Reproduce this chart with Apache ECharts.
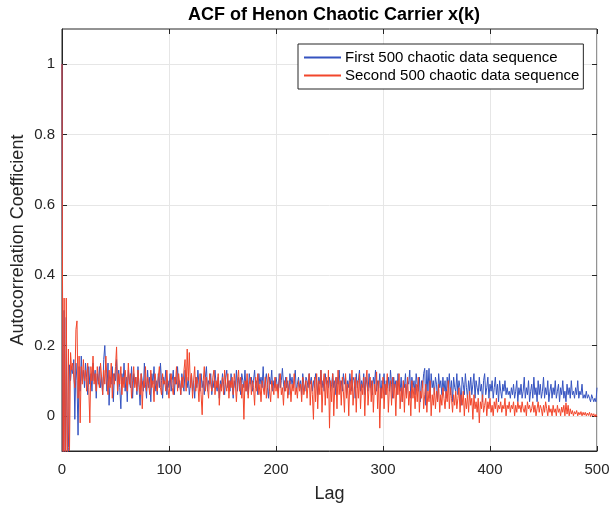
<!DOCTYPE html>
<html>
<head>
<meta charset="utf-8">
<script src="https://cdn.jsdelivr.net/npm/echarts@6/dist/echarts.min.js"></script>
<style>
  html, body { margin: 0; padding: 0; background: #fff; }
  #chart { width: 611px; height: 511px; }
</style>
</head>
<body>
<div id="chart"></div>
<script>
// ACF values, one value per lag (0..500)
var firstSeq = [
  1, -0.32, 0.3, -0.22, 0.28, -0.14, -0.09, 0.145, 0.1, 0.14,
  0.12, 0.16, -0.01, 0.15, 0.1, -0.055, 0.14, 0.07, 0.17, 0.1,
  0.13, 0.08, 0.15, 0.11, 0.06, 0.14, 0.09, 0.12, 0.07, 0.15,
  0.1, 0.13, 0.05, 0.12, 0.09, 0.14, 0.08, 0.11, 0.06, 0.16,
  0.2, 0.12, 0.07, 0.15, 0.03, 0.11, 0.09, 0.14, 0.04, 0.12,
  0.1, 0.16, 0.06, 0.13, 0.08, 0.02, 0.12, 0.09, 0.15, 0.07,
  0.11, 0.04, 0.13, 0.1, 0.08, 0.14, 0.05, 0.12, 0.09, 0.11,
  0.06, 0.14, 0.08, 0.03, 0.12, 0.1, 0.07, 0.15, 0.09, 0.05,
  0.13, 0.08, 0.11, 0.04, 0.12, 0.09, 0.14, 0.07, 0.1, 0.06,
  0.12, 0.08, 0.15, 0.1, 0.05, 0.11, 0.09, 0.13, 0.06, 0.1,
  0.08, 0.12, 0.07, 0.1, 0.13, 0.06, 0.11, 0.09, 0.14, 0.08,
  0.1, 0.06, 0.12, 0.09, 0.07, 0.13, 0.1, 0.08, 0.11, 0.06,
  0.09, 0.12, 0.07, 0.1, 0.05, 0.11, 0.08, 0.13, 0.09, 0.07,
  0.12, 0.08, 0.1, 0.06, 0.11, 0.14, 0.07, 0.1, 0.09, 0.12,
  0.06, 0.1, 0.08, 0.13, 0.09, 0.07, 0.11, 0.05, 0.1, 0.08,
  0.12, 0.09, 0.06, 0.11, 0.13, 0.08, 0.1, 0.07, 0.12, 0.09,
  0.05, 0.1, 0.08, 0.13, 0.07, 0.11, 0.09, 0.06, 0.12, 0.1,
  0.08, 0.13, 0.07, 0.1, 0.06, 0.12, 0.09, 0.11, 0.07, 0.1,
  0.13, 0.08, 0.1, 0.06, 0.12, 0.09, 0.11, 0.08, 0.14, 0.07,
  0.1, 0.12, 0.08, 0.05, 0.11, 0.09, 0.13, 0.07, 0.1, 0.08,
  0.11, 0.09, 0.07, 0.12, 0.08, 0.1, 0.135, 0.09, 0.07, 0.11,
  0.08, 0.1, 0.06, 0.12, 0.09, 0.11, 0.08, 0.1, 0.13, 0.07,
  0.09, 0.11, 0.08, 0.1, 0.06, 0.12, 0.09, 0.07, 0.11, 0.1,
  0.08, 0.12, 0.09, 0.11, 0.07, 0.1, 0.08, 0.12, 0.1, 0.06,
  0.11, 0.09, 0.13, 0.08, 0.1, 0.07, 0.12, 0.09, 0.1, 0.08,
  0.11, 0.07, 0.09, 0.12, 0.08, 0.1, 0.06, 0.11, 0.09, 0.13,
  0.08, 0.1, 0.07, 0.12, 0.09, 0.11, 0.06, 0.1, 0.08, 0.12,
  0.09, 0.07, 0.11, 0.1, 0.05, 0.12, 0.08, 0.1, 0.13, 0.07,
  0.1, 0.08, 0.12, 0.06, 0.11, 0.09, 0.07, 0.12, 0.08, 0.1,
  0.06, 0.11, 0.09, 0.13, 0.07, 0.1, 0.08, 0.12, 0.05, 0.1,
  0.09, 0.12, 0.06, 0.1, 0.08, 0.11, 0.07, 0.13, 0.09, 0.05,
  0.11, 0.08, 0.1, 0.06, 0.12, 0.09, 0.07, 0.11, 0.04, 0.1,
  0.08, 0.12, 0.06, 0.1, 0.09, 0.13, 0.05, 0.11, 0.08, 0.1,
  0.06, 0.12, 0.09, 0.07, 0.11, 0.04, 0.1, 0.08, 0.12, 0.135,
  0.03, 0.13, 0.07, 0.135, 0.05, 0.12, 0.08, 0.1, 0.06, 0.11,
  0.09, 0.04, 0.12, 0.08, 0.1, 0.06, 0.11, 0.07, 0.1, 0.05,
  0.11, 0.08, 0.12, 0.06, 0.1, 0.04, 0.11, 0.08, 0.07, 0.12,
  0.06, 0.1, 0.08, 0.03, 0.11, 0.09, 0.06, 0.12, 0.08, 0.05,
  0.1, 0.07, 0.11, 0.06, 0.09, 0.12, 0.05, 0.1, 0.08, 0.06,
  0.11, 0.07, 0.09, 0.04, 0.1, 0.12, 0.06, 0.08, 0.11, 0.05,
  0.09, 0.07, 0.1, 0.05, 0.08, 0.11, 0.06, 0.09, 0.04, 0.1,
  0.07, 0.05, 0.09, 0.07, 0.1, 0.06, 0.08, 0.06, 0.07, 0.05,
  0.08, 0.06, 0.09, 0.05, 0.07, 0.1, 0.04, 0.08, 0.06, 0.09,
  0.05, 0.07, 0.11, 0.05, 0.08, 0.06, 0.1, 0.04, 0.07, 0.09,
  0.05, 0.11, 0.06, 0.08, 0.04, 0.1, 0.06, 0.09, 0.05, 0.07,
  0.11, 0.05, 0.08, 0.06, 0.1, 0.04, 0.07, 0.09, 0.05, 0.08,
  0.06, 0.1, 0.05, 0.07, 0.09, 0.04, 0.08, 0.06, 0.1, 0.05,
  0.07, 0.04, 0.09, 0.06, 0.08, 0.05, 0.1, 0.06, 0.07, 0.05,
  0.08, 0.06, 0.1, 0.05, 0.07, 0.06, 0.09, 0.05, 0.06, 0.05,
  0.07, 0.05, 0.06, 0.05, 0.04, 0.06, 0.05, 0.04, 0.05, 0.04,
  0.08
];

var secondSeq = [
  1, -0.3, 0.335, -0.25, 0.335, -0.2, 0.19, -0.1, 0.18, 0.13,
  0.15, 0.11, 0.08, 0.245, 0.27, 0.05, 0.17, -0.02, 0.14, 0.09,
  0.16, 0.1, 0.13, 0.07, 0.15, 0.08, -0.02, 0.14, 0.1, 0.17,
  0.09, 0.12, 0.07, 0.14, 0.1, 0.08, 0.15, 0.11, 0.06, 0.13,
  0.09, 0.17, 0.1, 0.06, 0.13, 0.08, 0.15, 0.05, 0.12, 0.09,
  0.14, 0.196, 0.07, 0.12, 0.09, 0.14, 0.06, 0.11, 0.08, 0.13,
  0.1, 0.07, 0.15, 0.09, 0.12, 0.05, 0.1, 0.14, 0.08, 0.11,
  0.07, 0.13, 0.09, 0.06, 0.12, 0.02, 0.1, 0.08, 0.14, 0.07,
  0.11, 0.09, 0.06, 0.13, 0.08, 0.1, 0.04, 0.12, 0.09, 0.07,
  0.11, 0.14, 0.08, 0.06, 0.12, 0.09, 0.1, 0.07, 0.13, 0.08,
  0.05, 0.1, 0.12, 0.08, 0.06, 0.11, 0.09, 0.14, 0.07, 0.12,
  0.09, 0.06, 0.11, 0.08, 0.13, 0.16, 0.07, 0.19, 0.1, 0.18,
  0.08, 0.12, 0.05, 0.1, 0.14, 0.07, 0.11, 0.09, 0.04, 0.12,
  0.06, 0.003, 0.1, 0.14, 0.07, 0.11, 0.08, 0.05, 0.12, 0.09,
  0.07, 0.11, 0.13, 0.06, 0.1, 0.08, 0.12, 0.03, 0.09, 0.07,
  0.11, 0.06, 0.13, 0.09, 0.07, 0.12, 0.05, 0.1, 0.08, 0.11,
  0.06, 0.12, 0.09, 0.04, 0.1, 0.13, 0.07, 0.11, 0.05, 0.09,
  -0.01, 0.1, 0.07, 0.12, 0.05, 0.09, 0.11, 0.06, 0.1, 0.08,
  0.03, 0.11, 0.07, 0.12, 0.06, 0.09, 0.04, 0.1, 0.08, 0.06,
  0.11, 0.05, 0.09, 0.12, 0.07, 0.04, 0.1, 0.08, 0.06, 0.11,
  0.07, 0.09, 0.05, 0.1, 0.12, 0.06, 0.08, 0.03, 0.1, 0.07,
  0.11, 0.05, 0.08, 0.1, 0.04, 0.09, 0.07, 0.12, 0.06, 0.08,
  0.05, 0.1, 0.07, 0.09, 0.04, 0.11, 0.06, 0.08, 0.1, 0.05,
  0.09, 0.12, 0.03, 0.1, 0.06, -0.01, 0.11, 0.04, 0.12, 0.02,
  0.1, 0.06, 0.13, 0.01, 0.09, 0.12, 0.03, 0.11, 0.05, 0.13,
  -0.035, 0.1, 0.04, 0.12, 0.0, 0.09, 0.11, 0.02, 0.13, 0.06,
  0.1, 0.03, 0.11, 0.07, 0.01, 0.12, 0.05, 0.09, 0.0, 0.1,
  0.06, 0.13, 0.03, 0.08, 0.11, 0.01, 0.1, 0.05, 0.12, 0.02,
  0.09, 0.06, 0.11, 0.0, 0.1, 0.13, 0.03, 0.08, 0.11, 0.04,
  0.1, 0.01, 0.09, 0.06, 0.125, 0.02, 0.1, -0.035, 0.08, 0.05,
  0.11, 0.02, 0.09, 0.06, 0.12, 0.01, 0.08, 0.1, 0.03, 0.11,
  0.05, 0.09, 0.0, 0.1, 0.06, 0.12, 0.02, 0.08, 0.04, 0.1,
  0.01, 0.09, 0.05, 0.11, 0.03, 0.07, 0.0, 0.1, 0.05, 0.08,
  0.02, 0.09, 0.04, 0.11, 0.01, 0.07, 0.05, 0.1, 0.02, 0.06,
  0.09, 0.01, 0.07, 0.04, 0.1, 0.0, 0.06, 0.03, 0.08, 0.02,
  0.07, 0.04, 0.09, 0.01, 0.06, 0.03, 0.08, 0.05, 0.02, 0.07,
  0.04, 0.1, 0.02, 0.08, 0.05, 0.01, 0.06, 0.03, 0.07, 0.02,
  0.05, 0.08, 0.01, 0.06, 0.03, 0.07, 0.0, 0.05, 0.02, 0.06,
  0.01, 0.07, 0.03, 0.05, -0.01, 0.06, 0.02, 0.04, 0.01, 0.05,
  -0.02, 0.04, 0.02, 0.06, 0.01, 0.03, 0.05, 0.0, 0.04, 0.02,
  0.05, 0.01, 0.03, 0.0, 0.04, 0.02, 0.05, 0.01, 0.03, 0.02,
  0.04, 0.01, 0.03, 0.02, 0.05, 0.0, 0.03, 0.02, 0.04, 0.01,
  0.03, 0.02, 0.04, 0.0, 0.03, 0.01, 0.04, 0.02, 0.03, 0.01,
  0.04, 0.02, 0.01, 0.03, 0.0, 0.04, 0.02, 0.03, 0.01, 0.02,
  0.04, 0.01, 0.03, 0.0, 0.02, 0.04, 0.01, 0.03, 0.02, 0.0,
  0.03, 0.01, 0.04, 0.02, 0.0, 0.03, 0.01, 0.02, 0.0, 0.03,
  0.01, 0.02, 0.0, 0.03, 0.01, 0.02, 0.0, 0.025, 0.01, 0.03,
  0.0, 0.037, 0.005, 0.03, 0.0, 0.02, 0.005, 0.015, 0.0, 0.012,
  0.005, 0.015, 0.0, 0.01, 0.003, 0.012, 0.0, 0.01, 0.002, 0.01,
  0.0, 0.008, 0.001, 0.01, -0.002, 0.007, 0.0, 0.006, -0.003, 0.004,
  -0.002
];

var seriesNames = ["First 500 chaotic data sequence", "Second 500 chaotic data sequence"];
var xTicks = [0, 100, 200, 300, 400, 500];
var yTicks = [0, 0.2, 0.4, 0.6, 0.8, 1];

function pairs(values) {
  var out = [];
  for (var i = 0; i < values.length; i++) out.push([i, values[i]]);
  return out;
}

var font = "Liberation Sans, Arial, Helvetica, sans-serif";
var axisColor = "#262626";
var gridColor = "#e6e6e6";
var xMin = xTicks[0], xMax = xTicks[xTicks.length - 1];

var chart = echarts.init(document.getElementById("chart"), null, { renderer: "canvas" });
chart.setOption({
  animation: false,
  backgroundColor: "#fff",
  textStyle: { fontFamily: font },
  title: {
    text: "ACF of Henon Chaotic Carrier x(k)",
    left: 329,
    textAlign: "center",
    top: 1,
    textStyle: { fontSize: 18, fontWeight: "bold", color: "#000", fontFamily: font }
  },
  grid: {
    left: 62, right: 14, top: 29, bottom: 60,
    outerBoundsMode: "none",
    containLabel: false,
    show: true, borderColor: axisColor, borderWidth: 1
  },
  legend: {
    orient: "vertical",
    left: 298,
    top: 44,
    padding: [6, 4, 6, 5],
    itemGap: 3,
    itemWidth: 37,
    itemHeight: 15,
    borderColor: axisColor,
    borderWidth: 1,
    backgroundColor: "#fff",
    itemStyle: { color: "transparent", borderColor: "transparent", borderWidth: 0 },
    textStyle: { fontSize: 15, color: "#000", fontFamily: font, padding: [0, 0, 0, -1] },
    data: seriesNames
  },
  xAxis: [
    {
      type: "value",
      min: xMin, max: xMax, interval: 100,
      name: "Lag",
      nameLocation: "middle",
      nameGap: 34,
      nameTextStyle: { fontSize: 18, color: axisColor },
      axisLine: { show: true, onZero: false, lineStyle: { color: axisColor } },
      axisTick: { show: true, inside: true, length: 5, lineStyle: { color: axisColor } },
      axisLabel: { fontSize: 15, color: axisColor, margin: 11 },
      splitLine: { show: true, lineStyle: { color: gridColor, width: 1 } }
    },
    {
      type: "value", position: "top",
      min: xMin, max: xMax, interval: 100,
      axisLine: { show: false, onZero: false },
      axisTick: { show: true, inside: true, length: 5, lineStyle: { color: axisColor } },
      axisLabel: { show: false },
      splitLine: { show: false }
    }
  ],
  yAxis: [
    {
      type: "value",
      min: -0.1, max: 1.1,
      splitNumber: 6,
      name: "Autocorrelation Coefficient",
      nameLocation: "middle",
      nameGap: 35,
      nameMoveOverlap: false,
      nameTextStyle: { fontSize: 18, color: axisColor },
      axisLine: { show: true, onZero: false, lineStyle: { color: axisColor } },
      axisTick: { show: true, inside: true, length: 5, customValues: yTicks, lineStyle: { color: axisColor } },
      axisLabel: { fontSize: 15, color: axisColor, margin: 7, customValues: yTicks },
      splitLine: { show: true, lineStyle: { color: gridColor, width: 1 } }
    },
    {
      type: "value", position: "right",
      min: -0.1, max: 1.1,
      splitNumber: 6,
      axisLine: { show: false, onZero: false },
      axisTick: { show: true, inside: true, length: 5, customValues: yTicks, lineStyle: { color: axisColor } },
      axisLabel: { show: false },
      splitLine: { show: false }
    }
  ],
  series: [
    {
      name: seriesNames[0],
      type: "line",
      data: pairs(firstSeq),
      symbol: "none",
      clip: true,
      lineStyle: { color: "#3553c0", width: 1 },
      itemStyle: { color: "#3553c0" }
    },
    {
      name: seriesNames[1],
      type: "line",
      data: pairs(secondSeq),
      symbol: "none",
      clip: true,
      lineStyle: { color: "#f2462b", width: 1 },
      itemStyle: { color: "#f2462b" }
    }
  ]
});
</script>
</body>
</html>
